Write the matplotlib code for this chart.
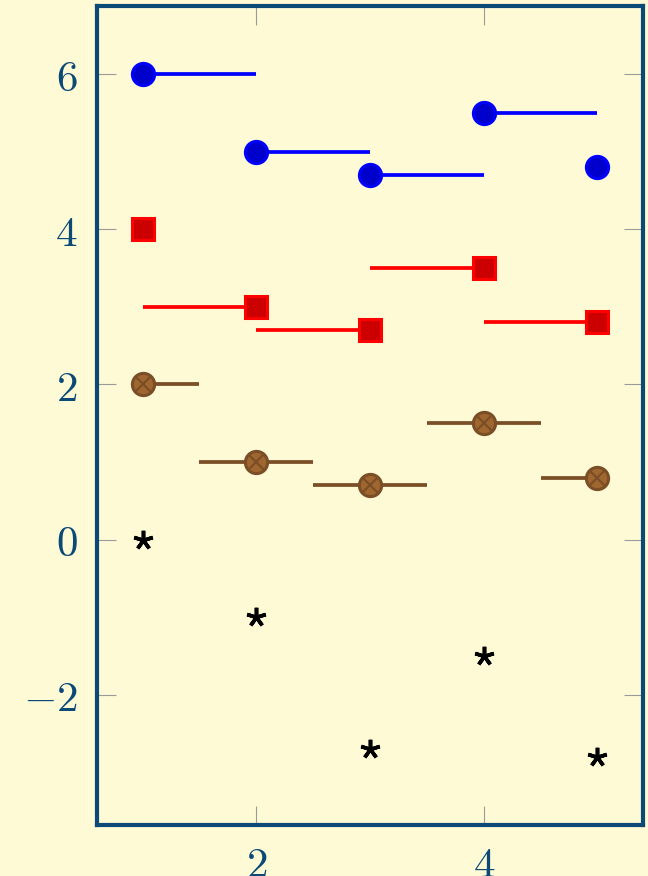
import matplotlib
matplotlib.use("Agg")
import matplotlib.pyplot as plt
import numpy as np

plt.rcParams['mathtext.fontset'] = 'cm'
plt.rcParams['font.family'] = ['DejaVu Serif']

x_vals = [1, 2, 3, 4, 5]
blue_y = [6, 5, 4.7, 5.5, 4.8]      # jump mark left
red_y = [4, 3, 2.7, 3.5, 2.8]       # jump mark right
brown_y = [2, 1, 0.7, 1.5, 0.8]     # jump mark mid
black_y = [0, -1, -2.7, -1.5, -2.8] # marks only

xticks = [2, 4]
yticks = [-2, 0, 2, 4, 6]

bg = '#FFFAD6'
axcol = '#0B4A76'

fig = plt.figure(figsize=(6.48, 8.76), dpi=100)
fig.patch.set_facecolor(bg)
ax = fig.add_axes([97/648, 1-825/876, (643-97)/648, (825-6)/876])
ax.set_facecolor(bg)

x = np.array(x_vals, dtype=float)
n = len(x)
lw = 2.7

# blue: jump mark left
bx, by = [], []
for i in range(n - 1):
    bx += [x[i], x[i+1], np.nan]
    by += [blue_y[i], blue_y[i], np.nan]
ax.plot(bx, by, color='#0000FF', lw=lw, solid_capstyle='butt', zorder=2)
ax.plot(x, blue_y, ls='none', marker='o', ms=16, mfc='#0000CC', mec='#0000FF', mew=2.2, zorder=3)

# red: jump mark right
rx, ry = [], []
for i in range(1, n):
    rx += [x[i-1], x[i], np.nan]
    ry += [red_y[i], red_y[i], np.nan]
ax.plot(rx, ry, color='#FF0000', lw=lw, solid_capstyle='butt', zorder=2)
ax.plot(x, red_y, ls='none', marker='s', ms=15.5, mfc='#CC0000', mec='#FF0000', mew=2.2, zorder=3)

# brown: jump mark mid
brx, bry = [], []
for i in range(n):
    left = x[i] if i == 0 else (x[i-1] + x[i]) / 2
    right = x[i] if i == n - 1 else (x[i] + x[i+1]) / 2
    brx += [left, right, np.nan]
    bry += [brown_y[i], brown_y[i], np.nan]
brown_edge = '#7A4E26'
brown_fill = '#A0662F'
ax.plot(brx, bry, color=brown_edge, lw=lw, solid_capstyle='butt', zorder=2)
ax.plot(x, brown_y, ls='none', marker='o', ms=16, mfc=brown_fill, mec=brown_edge, mew=2.2, zorder=3)
ax.plot(x, brown_y, ls='none', marker='x', ms=11.5, mec=brown_edge, mew=1.6, zorder=4)

# black stars
ax.plot(x, black_y, ls='none', marker=(5, 2, 0), ms=14, mec='black', mew=2.6, zorder=3)

ax.set_xlim(0.6, 5.4)
ax.set_ylim(-3.68, 6.88)
ax.set_xticks(xticks)
ax.set_yticks(yticks)
ax.set_xticklabels([f'${t}$' for t in xticks])
ax.set_yticklabels([f'${t}$' if t >= 0 else f'$-{abs(t)}$' for t in yticks])

for s in ax.spines.values():
    s.set_color(axcol)
    s.set_linewidth(3)
ax.tick_params(direction='in', length=14, width=0.8, color='#9A9A9A',
               top=True, right=True, labelsize=31, labelcolor=axcol, pad=14)

fig.savefig('out.png', dpi=100, facecolor=bg)
